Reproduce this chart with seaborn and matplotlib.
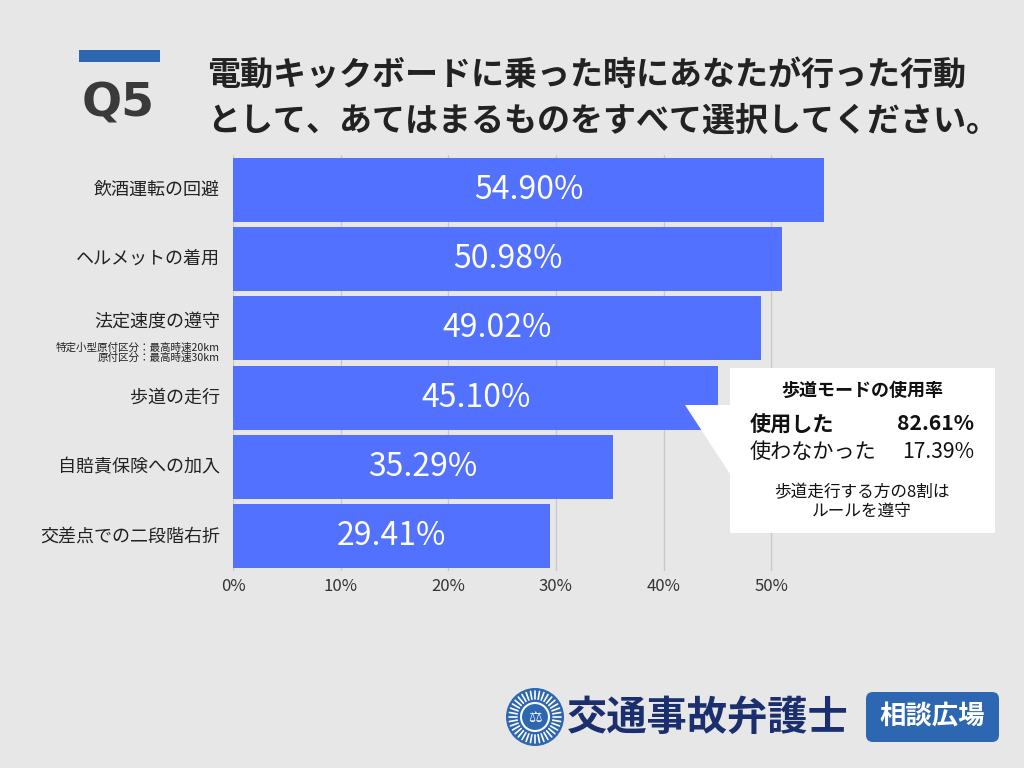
import matplotlib
matplotlib.use("Agg")
import matplotlib.pyplot as plt
import seaborn as sns
import pandas as pd
from matplotlib.patches import Rectangle, Polygon, FancyBboxPatch, Circle
import numpy as np

categories = ["飲酒運転の回避", "ヘルメットの着用", "法定速度の遵守", "歩道の走行", "自賠責保険への加入", "交差点での二段階右折"]
values = [54.90, 50.98, 49.02, 45.10, 35.29, 29.41]
value_labels = ["54.90%", "50.98%", "49.02%", "45.10%", "35.29%", "29.41%"]
sub_note = "特定小型原付区分：最高時速20km\n原付区分：最高時速30km"
x_ticks = [0, 10, 20, 30, 40, 50]
x_tick_labels = ["0%", "10%", "20%", "30%", "40%", "50%"]
title_lines = ["電動キックボードに乗った時にあなたが行った行動", "として、あてはまるものをすべて選択してください。"]
callout_title = "歩道モードの使用率"
callout_rows = ["使用した", "使わなかった"]
callout_vals = ["82.61%", "17.39%"]
callout_note = "歩道走行する方の8割は\nルールを遵守"

BG = "#E7E7E7"
BAR = "#5271FF"
BLUE = "#2E67B1"
NAVY = "#1B2F6E"

sns.set_theme(style="white")
plt.rcParams['font.family'] = ['Noto Sans CJK JP', 'DejaVu Sans']

fig = plt.figure(figsize=(10.24, 7.68), dpi=100, facecolor=BG)
ax = fig.add_axes([233/1024, 1-571/768, (825-233)/1024, (571-155)/768])
ax.set_facecolor(BG)

df = pd.DataFrame({"cat": categories, "val": values})
sns.barplot(data=df, x="val", y="cat", orient="h", color=BAR, saturation=1,
            width=0.92, ax=ax, zorder=3, linewidth=0, edgecolor="none")
ax.set_xlim(0, 55)
ax.set_ylim(5.5, -0.5)
ax.set_xticks(x_ticks)
ax.set_xticklabels(x_tick_labels, fontsize=12, color="#333333")
ax.tick_params(axis="x", length=0, pad=5)
ax.tick_params(axis="y", length=0)
for x in x_ticks:
    ax.axvline(x, color="#C9C9C9", lw=1, zorder=1)
for s in ax.spines.values():
    s.set_visible(False)
ax.set_xlabel("")
ax.set_ylabel("")
ax.set_yticklabels([])

for i, (c, v, lab) in enumerate(zip(categories, values, value_labels)):
    ax.text(v / 2, i, lab, ha="center", va="center", color="white", fontsize=23, zorder=5)
    if i == 2:
        ax.text(-1.2, i - 0.1, c, ha="right", va="center", fontsize=13, color="#222222")
        ax.text(-1.2, i + 0.35, sub_note, ha="right", va="center", fontsize=7.6,
                color="#222222", linespacing=1.0)
    else:
        ax.text(-1.2, i, c, ha="right", va="center", fontsize=13, color="#222222")

# Header
fig.patches.append(Rectangle((79/1024, 1-62/768), 81/1024, 12/768, transform=fig.transFigure,
                             facecolor=BLUE, edgecolor="none"))
fig.text(118/1024, 1-104/768, "Q5", ha="center", va="center", fontsize=34, fontweight="bold",
         color="#3A3A3A", family=["DejaVu Sans"])
fig.text(207/1024, 1-75/768, title_lines[0], ha="left", va="center", fontsize=23.8,
         fontweight="bold", color="#222222")
fig.text(207/1024, 1-121/768, title_lines[1], ha="left", va="center", fontsize=23.8,
         fontweight="bold", color="#222222")

# Callout
def fx(px):
    return px / 1024
def fy(py):
    return 1 - py / 768

fig.patches.append(Rectangle((fx(730), fy(533)), fx(995) - fx(730), fy(368) - fy(533),
                             transform=fig.transFigure, facecolor="white", edgecolor="none", zorder=10))
fig.patches.append(Polygon([(fx(685), fy(405)), (fx(732), fy(405)), (fx(732), fy(477))],
                           closed=True, transform=fig.transFigure, facecolor="white",
                           edgecolor="none", zorder=10))
fig.text(fx(862), fy(390), callout_title, ha="center", va="center", fontsize=13,
         fontweight="bold", color="#111111", zorder=11)
fig.text(fx(750), fy(424), callout_rows[0], ha="left", va="center", fontsize=15.2,
         fontweight="bold", color="#111111", zorder=11)
fig.text(fx(974), fy(424), callout_vals[0], ha="right", va="center", fontsize=15.2,
         fontweight="bold", color="#111111", zorder=11)
fig.text(fx(750), fy(452), callout_rows[1], ha="left", va="center", fontsize=15.2,
         color="#111111", zorder=11)
fig.text(fx(974), fy(452), callout_vals[1], ha="right", va="center", fontsize=15.2,
         color="#111111", zorder=11)
fig.text(fx(862), fy(502), callout_note, ha="center", va="center", fontsize=12,
         color="#111111", linespacing=1.1, zorder=11)

# Logo
lax = fig.add_axes([fx(500), fy(752), fx(1010) - fx(500), fy(682) - fy(752)])
lax.set_xlim(500, 1010)
lax.set_ylim(752, 682)
lax.set_aspect("equal")
lax.axis("off")
lax.add_patch(Circle((535, 717), 29, facecolor=BLUE, edgecolor="none"))
for a in np.linspace(0, 2 * np.pi, 36, endpoint=False):
    lax.plot([535 + 18 * np.cos(a), 535 + 26 * np.cos(a)],
             [717 + 18 * np.sin(a), 717 + 26 * np.sin(a)], color="white", lw=1.2)
lax.add_patch(Circle((535, 717), 14, facecolor=BLUE, edgecolor="white", lw=1.5))
lax.text(535, 717, "⚖", ha="center", va="center", color="white", fontsize=11, family=["DejaVu Sans"])
lax.text(567, 718, "交通事故弁護士", ha="left", va="center", fontsize=29, fontweight="bold", color=NAVY)
lax.add_patch(FancyBboxPatch((866, 692), 133, 50, boxstyle="round,pad=0,rounding_size=7",
                             facecolor=BLUE, edgecolor="none"))
lax.text(932, 717, "相談広場", ha="center", va="center", fontsize=19, fontweight="bold", color="white")

fig.savefig("out.png", dpi=100, facecolor=BG)
